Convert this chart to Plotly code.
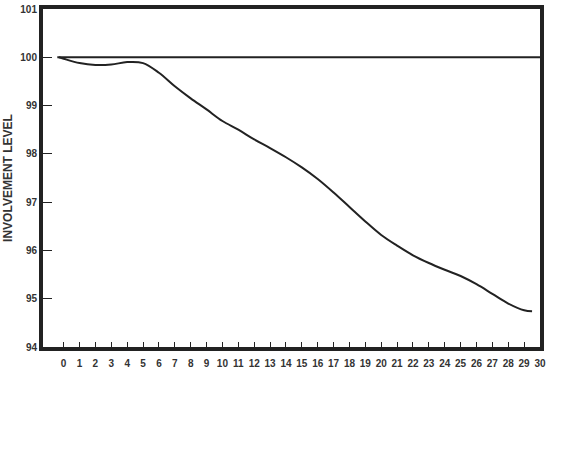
import plotly.graph_objects as go

# Data
days = [-0.3, 0, 1, 2, 3, 4, 5, 6, 7, 8, 9, 10, 11, 12, 13, 14, 15, 16, 17, 18,
        19, 20, 21, 22, 23, 24, 25, 26, 27, 28, 29, 29.5]
involvement = [100.0, 99.97, 99.88, 99.84, 99.85, 99.9, 99.88, 99.68, 99.4, 99.15,
               98.92, 98.68, 98.5, 98.3, 98.12, 97.93, 97.72, 97.48, 97.2, 96.9,
               96.6, 96.32, 96.1, 95.9, 95.74, 95.6, 95.47, 95.3, 95.1, 94.9,
               94.76, 94.74]
baseline_x = [-0.4, 30]
baseline_y = [100, 100]
x_ticks = list(range(0, 31))
y_ticks = [94, 95, 96, 97, 98, 99, 100, 101]

FONT = "Liberation Sans Narrow, Arial Narrow, sans-serif"
DARK = "#222222"
TXT = "#333333"

fig = go.Figure()
fig.add_trace(go.Scatter(x=baseline_x, y=baseline_y, mode="lines",
                         line=dict(color=DARK, width=2), hoverinfo="skip"))
fig.add_trace(go.Scatter(x=days, y=involvement, mode="lines",
                         line=dict(color=DARK, width=2, shape="spline", smoothing=1.0)))

fig.update_layout(
    width=562, height=464,
    margin=dict(l=43, r=22, t=9, b=117, autoexpand=False),
    paper_bgcolor="white", plot_bgcolor="white",
    showlegend=False,
    font=dict(family=FONT, size=10, color=TXT),
    xaxis=dict(range=[-1.3, 30], tickvals=x_ticks, ticktext=[str(v) for v in x_ticks],
               ticks="inside", ticklen=5, tickwidth=1, tickcolor=DARK,
               showline=True, linewidth=4, linecolor=DARK, mirror=True,
               showgrid=False, zeroline=False, automargin=False,
               ticklabelstandoff=4,
               tickfont=dict(family=FONT, size=10, color=TXT, weight="bold")),
    yaxis=dict(range=[94, 101], tickvals=y_ticks, ticktext=[str(v) for v in y_ticks],
               ticks="inside", ticklen=9, tickwidth=1, tickcolor=DARK,
               showline=True, linewidth=4, linecolor=DARK, mirror=True,
               showgrid=False, zeroline=False, automargin=False,
               title=dict(text="INVOLVEMENT LEVEL", standoff=6,
                          font=dict(family=FONT, size=12, color=TXT, weight="bold")),
               tickfont=dict(family=FONT, size=10, color=TXT, weight="bold")),
)

fig.write_html("out.html", config={"displayModeBar": False},
               post_script="document.body.style.margin='0';")
